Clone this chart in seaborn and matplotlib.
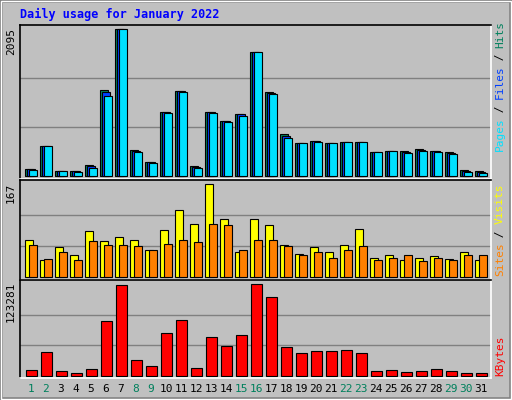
import matplotlib
matplotlib.use("Agg")
import matplotlib.pyplot as plt
import seaborn as sns
import numpy as np
from matplotlib.patches import Rectangle

days = list(range(1, 32))
hits = [104, 431, 76, 76, 152, 1228, 2095, 374, 204, 915, 1218, 137, 915, 787, 886, 1768,
        1204, 602, 474, 502, 474, 488, 488, 346, 360, 360, 389, 360, 346, 90, 76]
files = [95, 431, 74, 70, 140, 1200, 2095, 360, 198, 910, 1210, 128, 910, 780, 880, 1768,
         1190, 575, 474, 495, 474, 488, 488, 346, 360, 345, 375, 355, 332, 75, 60]
pages = [85, 431, 71, 57, 118, 1142, 2095, 346, 190, 900, 1199, 118, 900, 773, 858, 1768,
         1171, 545, 474, 488, 474, 488, 488, 346, 360, 332, 360, 346, 318, 62, 47]
sites = [67, 31, 54, 39, 82, 64, 71, 66, 49, 84, 120, 95, 167, 105, 44, 105,
         93, 58, 42, 54, 44, 58, 86, 35, 39, 31, 35, 37, 33, 44, 30]
visits = [57, 33, 44, 31, 64, 57, 57, 55, 48, 60, 66, 62, 95, 93, 48, 66,
          67, 55, 40, 44, 35, 48, 55, 30, 35, 39, 28, 35, 31, 40, 40]
kbytes = [7650, 31950, 6300, 3600, 9000, 73800, 122380, 21150, 13050, 57600, 75140, 10350,
          52200, 40050, 54900, 123281, 106200, 38700, 30600, 33300, 33300, 34650, 30600,
          6300, 7650, 4950, 6300, 9000, 6300, 3600, 3600]
weekend = [1, 2, 8, 9, 15, 16, 22, 23, 29, 30]

sns.set_style("white")
plt.rcParams['font.family'] = ['DejaVu Sans Mono']
W, H = 512, 400
fig = plt.figure(figsize=(5.12, 4.0), dpi=100)
fig.patch.set_facecolor("#C0C0C0")

def px_axes(x0, y0, x1, y1):
    return fig.add_axes([x0 / W, 1 - y1 / H, (x1 - x0) / W, (y1 - y0) / H])

# outer bevel
fig.patches.append(Rectangle((0, 0), 1, 1, transform=fig.transFigure, fill=False,
                             edgecolor="#808080", lw=4))
fig.patches.append(Rectangle((1 / W, 1 / H), 1 - 2 / W, 1 - 2 / H, transform=fig.transFigure,
                             fill=False, edgecolor="white", lw=1))

XL = (0.42, 31.8)
d = np.array(days)

def style(ax, vmax, top, base):
    ax.set_facecolor("#C0C0C0")
    ax.set_xlim(*XL)
    ax.set_ylim(0, vmax * (base - 0) / (base - top) if False else vmax * 1.0)
    for f in (1 / 3, 2 / 3):
        ax.axhline(vmax * f, color="#808080", lw=1, zorder=0)
    ax.set_xticks([]); ax.set_yticks([])
    for s in ax.spines.values():
        s.set_color("black"); s.set_linewidth(1)
    ax.spines['right'].set_color("white"); ax.spines['top'].set_color("white")

# top panel: baseline 176, max at 29, panel 25..179
ax1 = px_axes(20, 25, 491, 179)
vmax1 = max(hits)
ax1.set_ylim(-vmax1 * 3 / 147, vmax1 * 151 / 147)
ax1.set_xlim(*XL)
ax1.bar(d - 0.25, hits, width=0.53, align='edge', color="#00805C", edgecolor="black", lw=0.8)
ax1.bar(d - 0.12, files, width=0.53, align='edge', color="#0040FF", edgecolor="black", lw=0.8)
ax1.bar(d + 0.02, pages, width=0.53, align='edge', color="#00E0FF", edgecolor="black", lw=0.8)
ax1.set_facecolor("#C0C0C0")
for f in (1 / 3, 2 / 3):
    ax1.axhline(vmax1 * f, color="#808080", lw=1, zorder=0)
ax1.set_xticks([]); ax1.set_yticks([])

# middle panel: baseline 277, max at 184, panel 180..280
ax2 = px_axes(20, 180, 491, 280)
vmax2 = max(sites)
ax2.set_ylim(-vmax2 * 3 / 93, vmax2 * 97 / 93)
ax2.set_xlim(*XL)
ax2.bar(d - 0.25, sites, width=0.53, align='edge', color="#FFFF00", edgecolor="black", lw=0.8)
ax2.bar(d + 0.02, visits, width=0.53, align='edge', color="#FF8000", edgecolor="black", lw=0.8)
ax2.set_facecolor("#C0C0C0")
for f in (1 / 3, 2 / 3):
    ax2.axhline(vmax2 * f, color="#808080", lw=1, zorder=0)
ax2.set_xticks([]); ax2.set_yticks([])

# bottom panel: baseline 376, max at 284, panel 280..378
ax3 = px_axes(20, 280, 491, 378)
vmax3 = max(kbytes)
sns.barplot(x=d + 0.18, y=kbytes, native_scale=True, width=0.73, color="#FF0000",
            saturation=1, edgecolor="black", linewidth=0.8, ax=ax3)
ax3.set_ylim(-vmax3 * 2 / 92, vmax3 * 96 / 92)
ax3.set_xlim(*XL)
ax3.set_facecolor("#C0C0C0")
for f in (1 / 3, 2 / 3):
    ax3.axhline(vmax3 * f, color="#808080", lw=1, zorder=0)
ax3.set_xticks([]); ax3.set_yticks([]); ax3.set_xlabel(""); ax3.set_ylabel("")

for ax in (ax1, ax2, ax3):
    for s in ax.spines.values():
        s.set_color("black"); s.set_linewidth(1.2)
    ax.spines['right'].set_color("white"); ax.spines['bottom'].set_color("white")

# title
fig.text(20 / W, 1 - 14 / H, "Daily usage for January 2022", color="#0000FF",
         fontsize=8.5, fontweight="bold", va="center", ha="left")

# left max labels
for val, ytop in ((max(hits), 28), (max(sites), 183), (max(kbytes), 282)):
    fig.text(11 / W, 1 - ytop / H, str(val), rotation=90, fontsize=8, va="top", ha="center",
             color="black")

# right labels
def rlabel(parts, ybottom):
    y = ybottom
    for txt, col in parts:
        t = fig.text(500 / W, 1 - y / H, txt, rotation=90, fontsize=8, color=col,
                     va="bottom", ha="center")
        y -= 6.2 * len(txt) + 1
rlabel([("Pages", "#00E0FF"), (" / ", "#000000"), ("Files", "#0040FF"),
        (" / ", "#000000"), ("Hits", "#00805C")], 151)
rlabel([("Sites", "#FF8000"), (" / ", "#000000"), ("Visits", "#FFFF00")], 276)
rlabel([("KBytes", "#FF0000")], 376)

# day labels
for day in days:
    xpx = 20 + (day + 0.15 - XL[0]) / (XL[1] - XL[0]) * 471
    fig.text(xpx / W, 1 - 389 / H, str(day), fontsize=8, ha="center", va="center",
             color="#00805C" if day in weekend else "black")

fig.savefig("out.png", dpi=100, facecolor=fig.get_facecolor())
